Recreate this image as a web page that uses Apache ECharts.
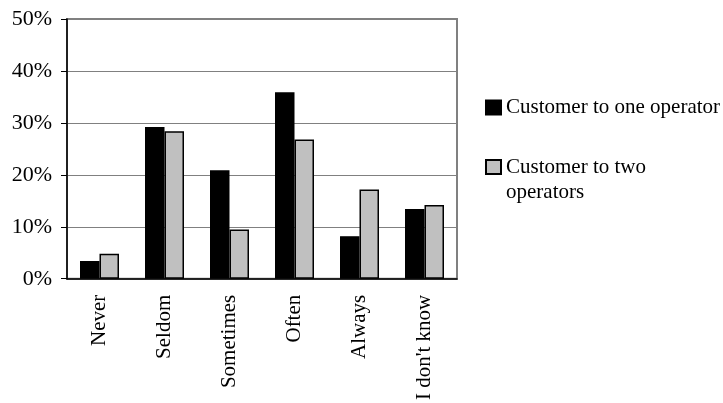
<!DOCTYPE html>
<html>
<head>
<meta charset="utf-8">
<script src="https://cdn.jsdelivr.net/npm/echarts@6/dist/echarts.min.js"></script>
<style>html,body{margin:0;padding:0;background:#fff}#c{width:723px;height:403px}</style>
</head>
<body>
<div id="c"></div>
<script>
var categories = ["Never", "Seldom", "Sometimes", "Often", "Always", "I don't know"];
var seriesOne = [3.4, 29.2, 20.9, 35.9, 8.2, 13.4];
var seriesTwo = [4.8, 28.4, 9.5, 26.8, 17.2, 14.2];
var yTicks = [0, 10, 20, 30, 40, 50];
var seriesNames = ["Customer to one operator", "Customer to two operators"];

var font = "'Liberation Serif', 'Times New Roman', serif";
var legendText = { fontFamily: font, fontSize: 21, color: '#000', lineHeight: 25 };
var chart = echarts.init(document.getElementById('c'));
chart.setOption({
  animation: false,
  textStyle: { fontFamily: font },
  grid: { left: 67, right: 266, top: 19, bottom: 124, show: true, borderColor: '#808080', borderWidth: 2 },
  legend: [
    {
      orient: 'vertical', left: 480, top: 90, itemWidth: 15, itemHeight: 14,
      icon: 'rect', data: [seriesNames[0]], textStyle: legendText
    },
    {
      orient: 'vertical', left: 480, top: 123, itemWidth: 15, itemHeight: 14,
      icon: 'rect',
      data: [seriesNames[1]],
      formatter: function () { return '{p|Customer to two}\n{a|operators}'; },
      textStyle: {
        fontFamily: font, fontSize: 21, color: '#000', lineHeight: 25,
        rich: {
          p: { fontFamily: font, fontSize: 21, color: '#000', lineHeight: 50, verticalAlign: 'bottom' },
          a: { fontFamily: font, fontSize: 21, color: '#000', lineHeight: 28 }
        }
      }
    }
  ],
  xAxis: {
    type: 'category', data: categories,
    axisLine: { lineStyle: { color: '#000', width: 1.5 } },
    axisTick: { lineStyle: { color: '#000' }, length: 6 },
    axisLabel: { rotate: 90, fontFamily: font, fontSize: 21, color: '#000', margin: 16, interval: 0 }
  },
  yAxis: {
    type: 'value', min: yTicks[0], max: yTicks[yTicks.length - 1], interval: 10,
    axisLine: { show: true, lineStyle: { color: '#000', width: 1.5 } },
    axisTick: { show: true, lineStyle: { color: '#000' }, length: 6 },
    axisLabel: { formatter: '{value}%', fontFamily: font, fontSize: 22, color: '#000', margin: 15 },
    splitLine: { lineStyle: { color: '#808080', width: 1 } }
  },
  series: [
    { name: seriesNames[0], type: 'bar', data: seriesOne, barGap: '0%', barCategoryGap: '40%',
      itemStyle: { color: '#000', borderColor: '#000', borderWidth: 1.5 } },
    { name: seriesNames[1], type: 'bar', data: seriesTwo, barGap: '0%', barCategoryGap: '40%',
      itemStyle: { color: '#c0c0c0', borderColor: '#000', borderWidth: 1.5 } }
  ]
});
</script>
</body>
</html>
